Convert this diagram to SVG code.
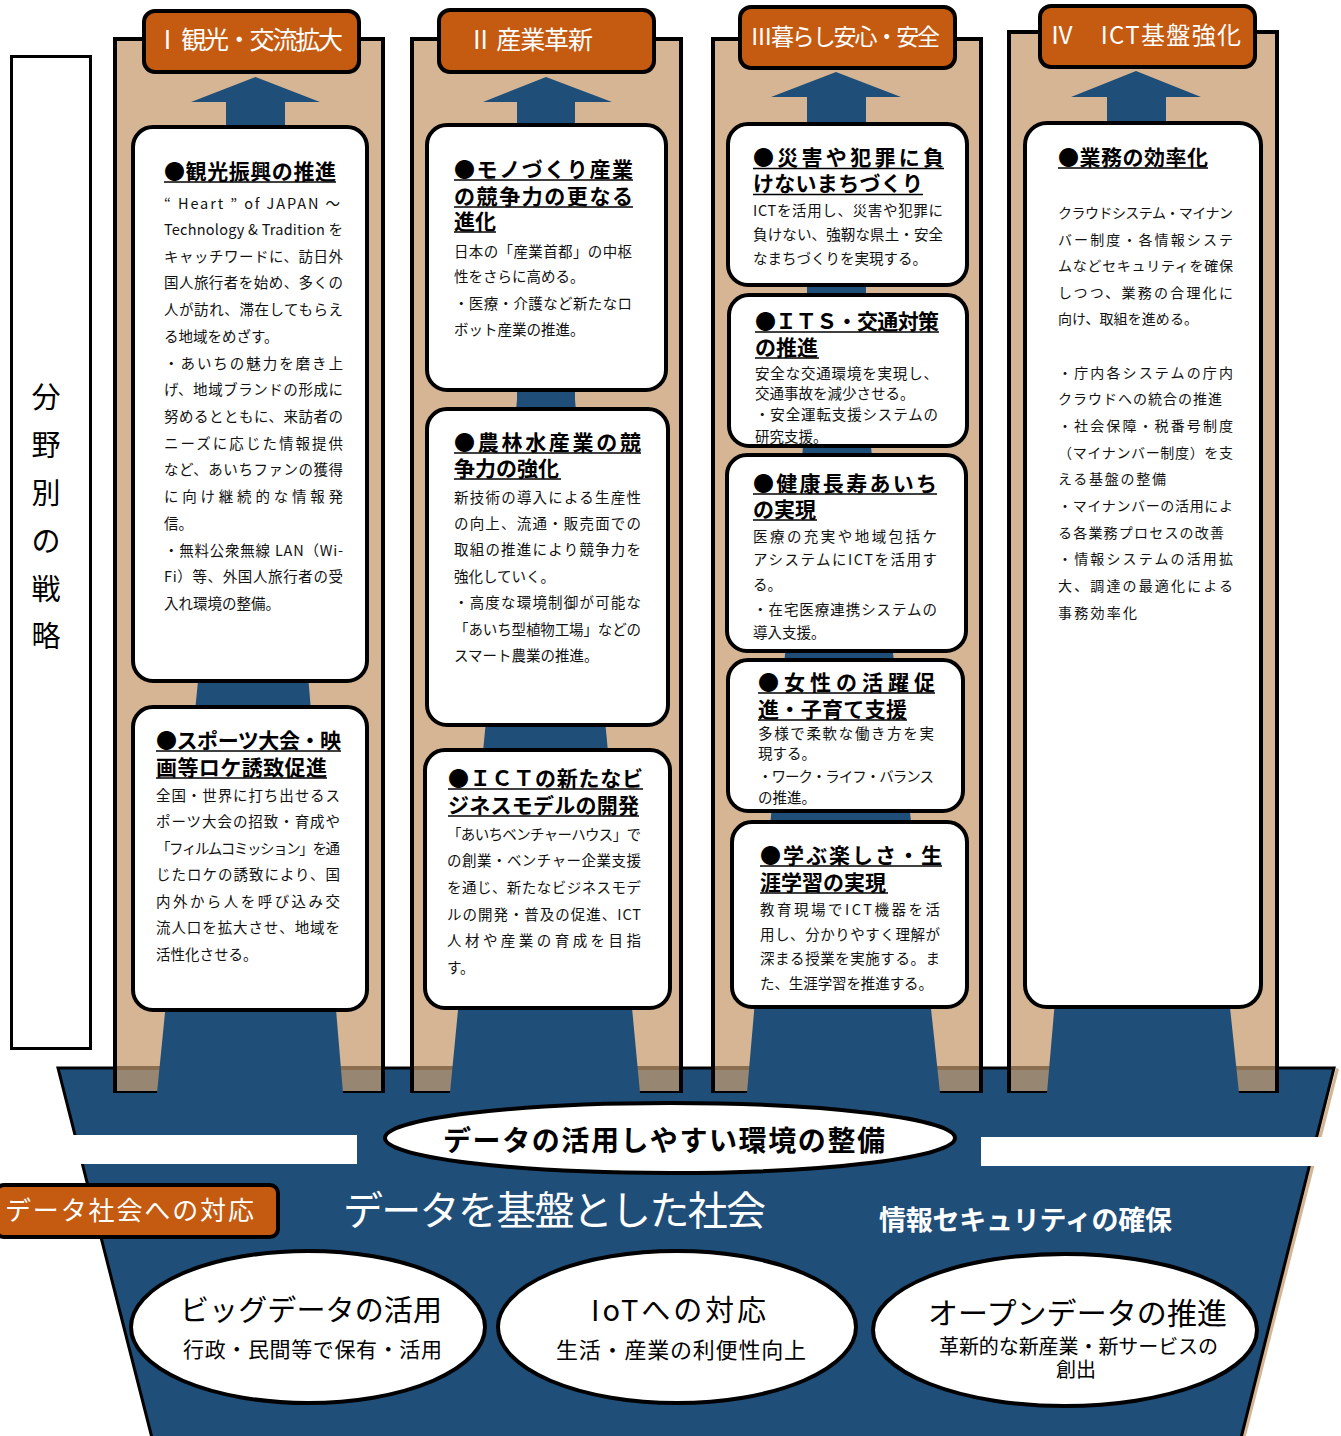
<svg xmlns="http://www.w3.org/2000/svg" width="1341" height="1436" viewBox="0 0 1341 1436">
<style>
text{font-family:"Noto Sans CJK JP","Noto Sans CJK SC",sans-serif}
.col{fill:#D5B594;stroke:#000;stroke-width:4}
.dim{fill:#978672}
.dimtop{fill:#8C6E50}
.hdr{fill:#C55A11;stroke:#000;stroke-width:4}
.box{fill:#fff;stroke:#000;stroke-width:4}
.shaft{fill:#1F4E79}
.ell{fill:#fff;stroke:#000;stroke-width:4}
.ht{fill:#fff;font-size:25px}
.tt{font-size:21px;font-weight:700;fill:#000}
.bt{font-size:14.5px;fill:#111}
.bt4{font-size:14px;fill:#111}
.ul{stroke:#000;stroke-width:1.6}
.side{font-size:29px;fill:#000}
</style>

<!-- base platform -->
<g id="base">
  <polygon points="1336,1068 1339,1069 1246,1436 1242,1436" fill="#D5B594"/>
  <polygon points="58,1068 1334,1068 1241,1438 152,1438" fill="#1F4E79" stroke="#000" stroke-width="3"/>
  <rect x="60" y="1135" width="297" height="29" fill="#fff"/>
  <rect x="981" y="1137" width="360" height="29" fill="#fff"/>
</g>

<!-- left side label -->
<g id="side-label">
  <rect x="11.5" y="56.5" width="79" height="992" fill="#fff" stroke="#000" stroke-width="3"/>
  <text class="side" x="46" y="408" text-anchor="middle">分</text>
  <text class="side" x="46" y="456" text-anchor="middle">野</text>
  <text class="side" x="46" y="504" text-anchor="middle">別</text>
  <text class="side" x="46" y="552" text-anchor="middle">の</text>
  <text class="side" x="46" y="600" text-anchor="middle">戦</text>
  <text class="side" x="46" y="647" text-anchor="middle">略</text>
</g>

<!-- columns -->
<g id="columns">
  <rect class="col" x="115" y="39" width="268" height="1052"/>
  <rect class="col" x="412" y="39" width="269" height="1052"/>
  <rect class="col" x="713" y="39" width="268" height="1052"/>
  <rect class="col" x="1009" y="32" width="268" height="1059"/>
  <rect class="dim" x="117" y="1068" width="264" height="23"/>
  <rect class="dim" x="414" y="1068" width="265" height="23"/>
  <rect class="dim" x="715" y="1068" width="264" height="23"/>
  <rect class="dim" x="1011" y="1068" width="264" height="23"/>
  <rect class="dimtop" x="117" y="1066" width="264" height="4"/>
  <rect class="dimtop" x="414" y="1066" width="265" height="4"/>
  <rect class="dimtop" x="715" y="1066" width="264" height="4"/>
  <rect class="dimtop" x="1011" y="1066" width="264" height="4"/>
</g>

<!-- connectors: upward arrows -->
<g id="connectors">
  <polygon class="shaft" points="255.5,77 320,102 285,102 285,400 343,1093 157,1093 226,400 226,102 191,102"/>
  <polygon class="shaft" points="546,77 612,102 575,102 575,400 640,1093 450,1093 517,400 517,102 483,102"/>
  <polygon class="shaft" points="836,72 901,97 866,97 866,400 940,1093 747,1093 807,400 807,97 771,97"/>
  <polygon class="shaft" points="1136,71 1201,97 1166,97 1166,400 1239,1093 1047,1093 1107,400 1107,97 1071,97"/>
</g>

<!-- headers -->
<g id="hdr1"><rect class="hdr" x="144" y="11" width="215" height="61" rx="11"/><text class="ht" x="155" y="49" textLength="188">Ⅰ 観光・交流拡大</text></g>
<g id="hdr2"><rect class="hdr" x="439" y="10" width="215" height="62" rx="11"/><text class="ht" x="468" y="49" textLength="125">Ⅱ 産業革新</text></g>
<g id="hdr3"><rect class="hdr" x="740" y="7" width="215" height="61" rx="11"/><text class="ht" x="750" y="45" textLength="190" style="font-size:23px">Ⅲ暮らし安心・安全</text></g>
<g id="hdr4"><rect class="hdr" x="1040" y="6" width="215" height="61" rx="11"/><text class="ht" x="1050" y="44" textLength="191" style="font-size:24px">Ⅳ　ICT基盤強化</text></g>

<!-- Column 1 -->
<g id="c1-tourism">
  <rect class="box" x="133" y="127" width="234" height="554" rx="20"/>
  <text class="tt" x="164" y="179" textLength="172">●観光振興の推進</text>
  <line class="ul" x1="164" y1="182" x2="336" y2="182"/>
  <text class="bt" x="164" y="209" textLength="176">“ Heart ” of JAPAN ～</text>
  <text class="bt" x="164" y="235" textLength="179">Technology &amp; Tradition を</text>
  <text class="bt" x="164" y="262" textLength="179">キャッチワードに、訪日外</text>
  <text class="bt" x="164" y="288" textLength="179">国人旅行者を始め、多くの</text>
  <text class="bt" x="164" y="315" textLength="179">人が訪れ、滞在してもらえ</text>
  <text class="bt" x="164" y="342">る地域をめざす。</text>
  <text class="bt" x="164" y="369" textLength="179">・あいちの魅力を磨き上</text>
  <text class="bt" x="164" y="395" textLength="179">げ、地域ブランドの形成に</text>
  <text class="bt" x="164" y="422" textLength="179">努めるとともに、来訪者の</text>
  <text class="bt" x="164" y="449" textLength="179">ニーズに応じた情報提供</text>
  <text class="bt" x="164" y="475" textLength="179">など、あいちファンの獲得</text>
  <text class="bt" x="164" y="502" textLength="179">に向け継続的な情報発</text>
  <text class="bt" x="164" y="529">信。</text>
  <text class="bt" x="164" y="556" textLength="179">・無料公衆無線 LAN（Wi-</text>
  <text class="bt" x="164" y="582" textLength="179">Fi）等、外国人旅行者の受</text>
  <text class="bt" x="164" y="609">入れ環境の整備。</text>
</g>
<g id="c1-sports">
  <rect class="box" x="133" y="707" width="234" height="303" rx="20"/>
  <text class="tt" x="156" y="748" textLength="185">●スポーツ大会・映</text>
  <line class="ul" x1="156" y1="751" x2="341" y2="751"/>
  <text class="tt" x="156" y="775" textLength="171">画等ロケ誘致促進</text>
  <line class="ul" x1="156" y1="778" x2="327" y2="778"/>
  <text class="bt" x="156" y="801" textLength="184">全国・世界に打ち出せるス</text>
  <text class="bt" x="156" y="827" textLength="184">ポーツ大会の招致・育成や</text>
  <text class="bt" x="156" y="854" textLength="184">「フィルムコミッション」を通</text>
  <text class="bt" x="156" y="880" textLength="184">じたロケの誘致により、国</text>
  <text class="bt" x="156" y="907" textLength="184">内外から人を呼び込み交</text>
  <text class="bt" x="156" y="933" textLength="184">流人口を拡大させ、地域を</text>
  <text class="bt" x="156" y="960">活性化させる。</text>
</g>

<!-- Column 2 -->
<g id="c2-mono">
  <rect class="box" x="427" y="125" width="239" height="265" rx="20"/>
  <text class="tt" x="454" y="177" textLength="179">●モノづくり産業</text>
  <line class="ul" x1="454" y1="180" x2="633" y2="180"/>
  <text class="tt" x="454" y="204" textLength="179">の競争力の更なる</text>
  <line class="ul" x1="454" y1="207" x2="633" y2="207"/>
  <text class="tt" x="454" y="229">進化</text>
  <line class="ul" x1="454" y1="232" x2="496" y2="232"/>
  <text class="bt" x="454" y="257" textLength="178">日本の「産業首都」の中枢</text>
  <text class="bt" x="454" y="282">性をさらに高める。</text>
  <text class="bt" x="454" y="309" textLength="178">・医療・介護など新たなロ</text>
  <text class="bt" x="454" y="335">ボット産業の推進。</text>
</g>
<g id="c2-agri">
  <rect class="box" x="427" y="409" width="241" height="316" rx="20"/>
  <text class="tt" x="454" y="450" textLength="187">●農林水産業の競</text>
  <line class="ul" x1="454" y1="453" x2="641" y2="453"/>
  <text class="tt" x="454" y="476">争力の強化</text>
  <line class="ul" x1="454" y1="479" x2="561" y2="479"/>
  <text class="bt" x="454" y="503" textLength="187">新技術の導入による生産性</text>
  <text class="bt" x="454" y="529" textLength="187">の向上、流通・販売面での</text>
  <text class="bt" x="454" y="555" textLength="187">取組の推進により競争力を</text>
  <text class="bt" x="454" y="582">強化していく。</text>
  <text class="bt" x="454" y="608" textLength="187">・高度な環境制御が可能な</text>
  <text class="bt" x="454" y="635" textLength="187">「あいち型植物工場」などの</text>
  <text class="bt" x="454" y="661">スマート農業の推進。</text>
</g>
<g id="c2-ict">
  <rect class="box" x="425" y="750" width="245" height="258" rx="20"/>
  <text class="tt" x="448" y="786" textLength="195">●ＩＣＴの新たなビ</text>
  <line class="ul" x1="448" y1="789" x2="643" y2="789"/>
  <text class="tt" x="448" y="813" textLength="191">ジネスモデルの開発</text>
  <line class="ul" x1="448" y1="816" x2="639" y2="816"/>
  <text class="bt" x="447" y="840" textLength="194">「あいちベンチャーハウス」で</text>
  <text class="bt" x="447" y="866" textLength="194">の創業・ベンチャー企業支援</text>
  <text class="bt" x="447" y="893" textLength="194">を通じ、新たなビジネスモデ</text>
  <text class="bt" x="447" y="920" textLength="194">ルの開発・普及の促進、ICT</text>
  <text class="bt" x="447" y="946" textLength="194">人材や産業の育成を目指</text>
  <text class="bt" x="447" y="973">す。</text>
</g>

<!-- Column 3 -->
<g id="c3-disaster">
  <rect class="box" x="728" y="124" width="239" height="161" rx="20"/>
  <text class="tt" x="753" y="165" textLength="191">●災害や犯罪に負</text>
  <line class="ul" x1="753" y1="168.5" x2="944" y2="168.5"/>
  <text class="tt" x="753" y="191" textLength="170">けないまちづくり</text>
  <line class="ul" x1="753" y1="194.5" x2="923" y2="194.5"/>
  <text class="bt" x="753" y="216" textLength="190">ICTを活用し、災害や犯罪に</text>
  <text class="bt" x="753" y="240" textLength="190">負けない、強靭な県土・安全</text>
  <text class="bt" x="753" y="264">なまちづくりを実現する。</text>
</g>
<g id="c3-its">
  <rect class="box" x="729" y="295" width="238" height="151" rx="20"/>
  <text class="tt" x="755" y="329" textLength="184">●ＩＴＳ・交通対策</text>
  <line class="ul" x1="755" y1="332" x2="939" y2="332"/>
  <text class="tt" x="755" y="355">の推進</text>
  <line class="ul" x1="755" y1="358" x2="819" y2="358"/>
  <text class="bt" x="755" y="379" textLength="183">安全な交通環境を実現し、</text>
  <text class="bt" x="755" y="399">交通事故を減少させる。</text>
  <text class="bt" x="755" y="420" textLength="183">・安全運転支援システムの</text>
  <text class="bt" x="755" y="442">研究支援。</text>
</g>
<g id="c3-health">
  <rect class="box" x="727" y="455" width="239" height="196" rx="20"/>
  <text class="tt" x="753" y="491" textLength="184">●健康長寿あいち</text>
  <line class="ul" x1="753" y1="494" x2="937" y2="494"/>
  <text class="tt" x="753" y="517">の実現</text>
  <line class="ul" x1="753" y1="520" x2="817" y2="520"/>
  <text class="bt" x="753" y="542" textLength="184">医療の充実や地域包括ケ</text>
  <text class="bt" x="753" y="565" textLength="184">アシステムにICTを活用す</text>
  <text class="bt" x="753" y="590">る。</text>
  <text class="bt" x="753" y="615" textLength="184">・在宅医療連携システムの</text>
  <text class="bt" x="753" y="638">導入支援。</text>
</g>
<g id="c3-women">
  <rect class="box" x="728" y="660" width="235" height="151" rx="20"/>
  <text class="tt" x="758" y="690" textLength="177">●女性の活躍促</text>
  <line class="ul" x1="758" y1="693" x2="935" y2="693"/>
  <text class="tt" x="758" y="717" textLength="149">進・子育て支援</text>
  <line class="ul" x1="758" y1="720" x2="907" y2="720"/>
  <text class="bt" x="758" y="739" textLength="176">多様で柔軟な働き方を実</text>
  <text class="bt" x="758" y="759">現する。</text>
  <text class="bt" x="758" y="782" textLength="176">・ワーク・ライフ・バランス</text>
  <text class="bt" x="758" y="803">の推進。</text>
</g>
<g id="c3-learning">
  <rect class="box" x="732" y="822" width="235" height="185" rx="20"/>
  <text class="tt" x="760" y="863" textLength="182">●学ぶ楽しさ・生</text>
  <line class="ul" x1="760" y1="866" x2="942" y2="866"/>
  <text class="tt" x="760" y="890">涯学習の実現</text>
  <line class="ul" x1="760" y1="893" x2="888" y2="893"/>
  <text class="bt" x="760" y="915" textLength="180">教育現場でICT機器を活</text>
  <text class="bt" x="760" y="940" textLength="180">用し、分かりやすく理解が</text>
  <text class="bt" x="760" y="964" textLength="180">深まる授業を実施する。ま</text>
  <text class="bt" x="760" y="989" textLength="173">た、生涯学習を推進する。</text>
</g>

<!-- Column 4 -->
<g id="c4-efficiency">
  <rect class="box" x="1025" y="123" width="236" height="884" rx="22"/>
  <text class="tt" x="1058" y="165" textLength="150">●業務の効率化</text>
  <line class="ul" x1="1058" y1="168" x2="1208" y2="168"/>
  <text class="bt4" x="1058" y="218" textLength="175">クラウドシステム・マイナン</text>
  <text class="bt4" x="1058" y="245" textLength="175">バー制度・各情報システ</text>
  <text class="bt4" x="1058" y="271" textLength="175">ムなどセキュリティを確保</text>
  <text class="bt4" x="1058" y="298" textLength="175">しつつ、業務の合理化に</text>
  <text class="bt4" x="1058" y="324" textLength="140">向け、取組を進める。</text>
  <text class="bt4" x="1058" y="378" textLength="175">・庁内各システムの庁内</text>
  <text class="bt4" x="1058" y="404" textLength="164">クラウドへの統合の推進</text>
  <text class="bt4" x="1058" y="431" textLength="175">・社会保障・税番号制度</text>
  <text class="bt4" x="1058" y="458" textLength="175">（マイナンバー制度）を支</text>
  <text class="bt4" x="1058" y="484" textLength="108">える基盤の整備</text>
  <text class="bt4" x="1058" y="511" textLength="175">・マイナンバーの活用によ</text>
  <text class="bt4" x="1058" y="538" textLength="166">る各業務プロセスの改善</text>
  <text class="bt4" x="1058" y="564" textLength="175">・情報システムの活用拡</text>
  <text class="bt4" x="1058" y="591" textLength="175">大、調達の最適化による</text>
  <text class="bt4" x="1058" y="618" textLength="79">事務効率化</text>
</g>

<!-- bottom foundation -->
<g id="env">
  <ellipse class="ell" cx="670" cy="1138" rx="285" ry="35"/>
  <text x="443" y="1151" textLength="442" style="font-size:28px;font-weight:700;fill:#000">データの活用しやすい環境の整備</text>
</g>
<g id="data-society-label">
  <rect x="-4" y="1185" width="282" height="52" rx="8" fill="#C55A11" stroke="#000" stroke-width="4"/>
  <text x="5" y="1220" textLength="249" style="font-size:26px;fill:#fff">データ社会への対応</text>
</g>
<text id="data-society" x="343" y="1225" textLength="423" style="font-size:40px;fill:#fff">データを基盤とした社会</text>
<text id="security" x="879" y="1230" textLength="293" style="font-size:27px;font-weight:700;fill:#fff">情報セキュリティの確保</text>
<g id="bigdata">
  <ellipse class="ell" cx="308" cy="1327" rx="177" ry="76"/>
  <text x="180" y="1321" textLength="262" style="font-size:29px;fill:#000">ビッグデータの活用</text>
  <text x="183" y="1357" textLength="259" style="font-size:21px;fill:#000">行政・民間等で保有・活用</text>
</g>
<g id="iot">
  <ellipse class="ell" cx="677" cy="1327" rx="179" ry="76"/>
  <text x="591" y="1321" textLength="175" style="font-size:29px;fill:#000">IoTへの対応</text>
  <text x="556" y="1358" textLength="250" style="font-size:22px;fill:#000">生活・産業の利便性向上</text>
</g>
<g id="opendata">
  <ellipse class="ell" cx="1065" cy="1330" rx="192" ry="76"/>
  <text x="928" y="1324" textLength="299" style="font-size:30px;fill:#000">オープンデータの推進</text>
  <text x="939" y="1354" textLength="279" style="font-size:20px;fill:#000">革新的な新産業・新サービスの</text>
  <text x="1076" y="1377" text-anchor="middle" style="font-size:20px;fill:#000">創出</text>
</g>
</svg>
